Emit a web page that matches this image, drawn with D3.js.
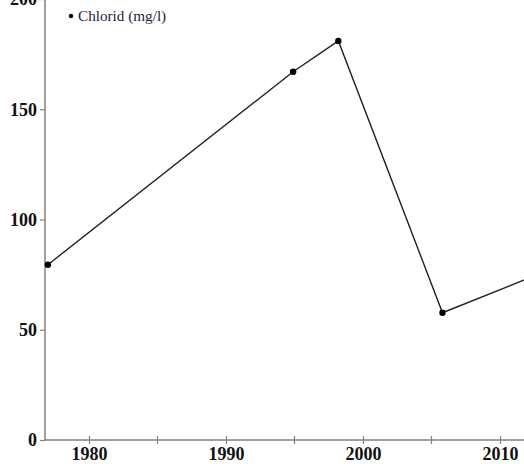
<!DOCTYPE html>
<html>
<head>
<meta charset="utf-8">
<script src="https://cdn.jsdelivr.net/npm/d3@7"></script>
<style>
  html, body { margin: 0; padding: 0; background: #fff; }
  svg { display: block; }
</style>
</head>
<body>
<svg id="chart" width="524" height="464"></svg>
<script>
// Data
const years = [1977.0, 1994.9, 1998.2, 2005.8, 2015.0];
const chlorid = [79.5, 167.0, 181.0, 57.7, 80.6];
const seriesName = "Chlorid (mg/l)";
const yTicks = [0, 50, 100, 150, 200];
const xMajorTicks = [1980, 1990, 2000, 2010];
const xMinorTicks = [1985, 1995, 2005];

const svg = d3.select("#chart");
const x = d3.scaleLinear().domain([1976.79, 2011.75]).range([45, 524]);
const y = d3.scaleLinear().domain([0, 200]).range([440, -1]);

const axisColor = "#808080";
const font = "'Liberation Serif', 'Times New Roman', serif";

// Y axis
const yAxis = svg.append("g").attr("transform", `translate(${x.range()[0]},0)`)
  .call(d3.axisLeft(y).tickValues(yTicks).tickSize(5).tickPadding(3).tickFormat(d3.format("d")));
yAxis.select(".domain").attr("stroke", axisColor).attr("stroke-width", 1.5).attr("d", `M0,${y(0)}V${-10}`);
yAxis.selectAll(".tick line").attr("stroke", axisColor).attr("stroke-width", 1.2);
yAxis.selectAll(".tick text").attr("fill", "#111").attr("font-family", font)
  .attr("font-size", 18).attr("font-weight", "bold");

// X axis
const xAxis = svg.append("g").attr("transform", `translate(0,${y(0)})`)
  .call(d3.axisBottom(x).tickValues(xMajorTicks).tickSize(4).tickPadding(3).tickFormat(d3.format("d")));
xAxis.select(".domain").attr("stroke", axisColor).attr("stroke-width", 1.5).attr("d", `M${x.range()[0]},0H${x.range()[1]}`);
xAxis.selectAll(".tick line").attr("stroke", axisColor).attr("stroke-width", 1.2).attr("y1", -4).attr("y2", 4);
xAxis.selectAll(".tick text").attr("fill", "#111").attr("font-family", font)
  .attr("font-size", 18).attr("font-weight", "bold");
xAxis.selectAll(".minor").data(xMinorTicks).enter().append("line")
  .attr("class", "minor")
  .attr("x1", d => x(d)).attr("x2", d => x(d)).attr("y1", -4).attr("y2", 4)
  .attr("stroke", axisColor).attr("stroke-width", 1.2);

// Line
const data = years.map((yr, i) => ({ yr, v: chlorid[i] }));
svg.append("path").datum(data)
  .attr("fill", "none").attr("stroke", "#222").attr("stroke-width", 1.4)
  .attr("d", d3.line().x(d => x(d.yr)).y(d => y(d.v)));
svg.selectAll(".pt").data(data).enter().append("circle")
  .attr("class", "pt")
  .attr("cx", d => x(d.yr)).attr("cy", d => y(d.v)).attr("r", 3.2).attr("fill", "#000");

// Legend
const lg = svg.append("g").attr("transform", "translate(71,16)");
lg.append("circle").attr("cx", 0).attr("cy", 0).attr("r", 2.3).attr("fill", "#111");
lg.append("text").attr("x", 7).attr("y", 5).text(seriesName)
  .attr("font-family", font).attr("font-size", 15.2).attr("fill", "#1c1c3c");
</script>
</body>
</html>
